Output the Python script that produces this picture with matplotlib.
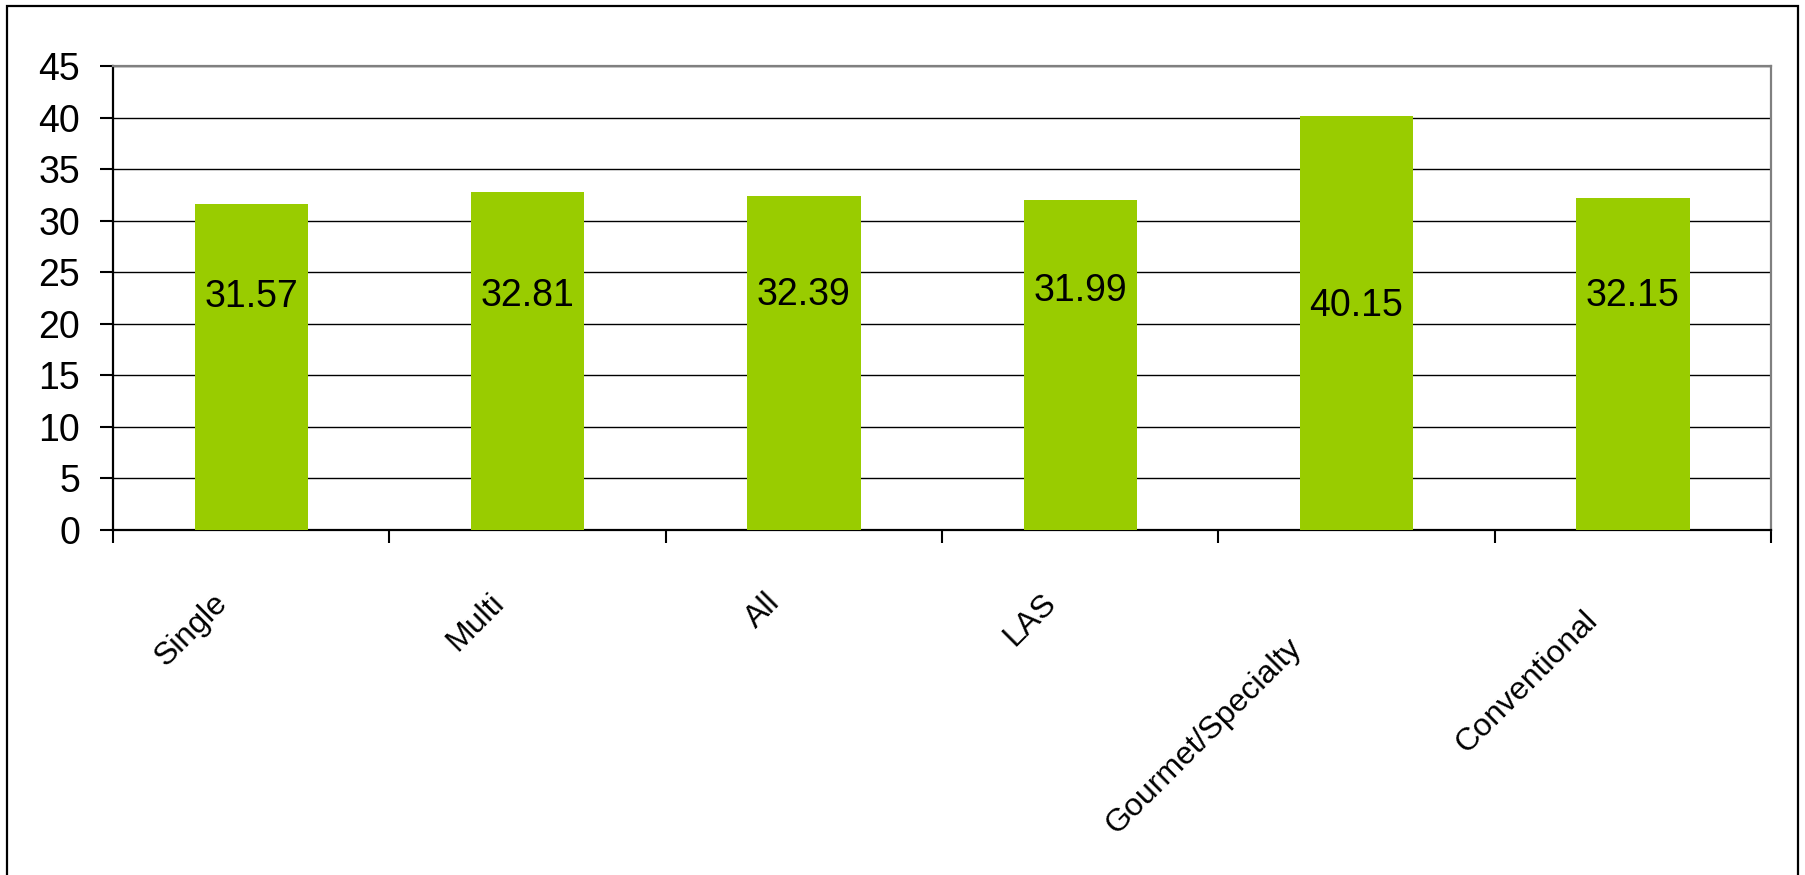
import matplotlib
matplotlib.use("Agg")
from matplotlib import pyplot as plt
from matplotlib.patches import Rectangle
from matplotlib.transforms import offset_copy
import numpy as np

categories = ["Single", "Multi", "All", "LAS", "Gourmet/Specialty", "Conventional"]
values = [31.57, 32.81, 32.39, 31.99, 40.15, 32.15]
label_y = [23.0, 23.1, 23.2, 23.6, 22.1, 23.1]  # where the value labels sit
y_ticks = [0, 5, 10, 15, 20, 25, 30, 35, 40, 45]

BAR_COLOR = "#99CC00"
plt.rcParams["font.family"] = ["Liberation Sans", "DejaVu Sans"]
XLAB_SIZE = 23

DPI = 100
fig = plt.figure(figsize=(18.05, 8.75), dpi=DPI)
ax = fig.add_axes([0.0626, 0.3943, 0.9186, 0.5303])

x = np.arange(len(categories))
ax.bar(x, values, width=0.41, color=BAR_COLOR, zorder=3)

lab_tr = offset_copy(ax.transData, fig=fig, x=0, y=-4, units="dots")
for xi, v, ly in zip(x, values, label_y):
    ax.text(xi, ly, f"{v:.2f}", ha="center", va="center", fontsize=27,
            transform=lab_tr, zorder=4)

ax.set_xlim(-0.5, len(categories) - 0.5)
ax.set_ylim(0, 45)
ax.set_yticks(y_ticks)
ax.set_yticklabels([str(t) for t in y_ticks], fontsize=27)
ax.yaxis.grid(True, color="black", linewidth=1.0, zorder=0)
ax.set_axisbelow(True)

# category boundary ticks, labels drawn by hand below
ax.set_xticks(np.arange(len(categories) + 1) - 0.5)
ax.set_xticklabels([])
ax.tick_params(axis="x", direction="out", length=9, width=1.5, color="black")
ax.tick_params(axis="y", direction="out", length=9.5, width=1.5, color="black", pad=14)

for s in ["left", "bottom"]:
    ax.spines[s].set_color("black")
    ax.spines[s].set_linewidth(1.6)
for s in ["top", "right"]:
    ax.spines[s].set_color("#808080")
    ax.spines[s].set_linewidth(1.6)

# rotated category labels, Excel-like placement (long ones slide down-left)
fig.canvas.draw()
r = fig.canvas.get_renderer()
base = ax.get_xaxis_transform()
for xi, lab in zip(x, categories):
    tmp = fig.text(0, 0, lab, fontsize=XLAB_SIZE)
    w = tmp.get_window_extent(r).width
    tmp.remove()
    extra = max(0.0, w - 140)
    tr = offset_copy(base, fig=fig, x=-39 - 0.25 * extra, y=-(58 + 0.36 * extra),
                     units="dots")
    ax.text(xi, 0, lab, transform=tr, rotation=45, rotation_mode="anchor",
            ha="right", va="top", fontsize=XLAB_SIZE, clip_on=False)

# outer chart border (bottom edge lies below the picture)
fig.patches.append(Rectangle((7 / 1805, -0.05), (1798 - 7) / 1805, 1.05 - 6 / 875,
                             transform=fig.transFigure, fill=False,
                             edgecolor="black", linewidth=1.6))

fig.savefig("out.png", dpi=DPI)
